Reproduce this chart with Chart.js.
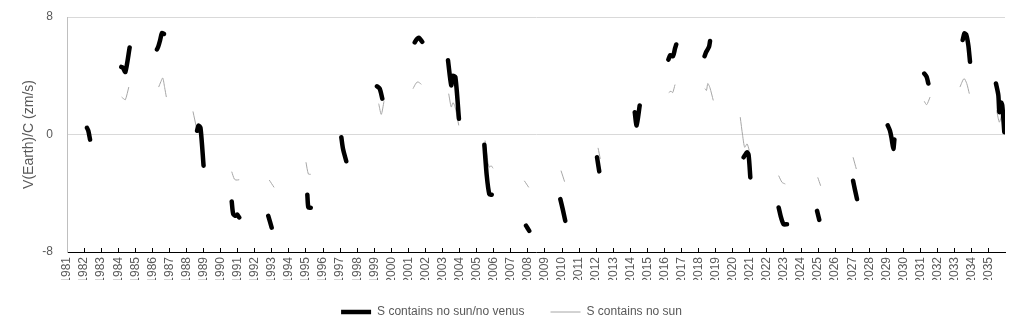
<!DOCTYPE html>
<html>
<head>
<meta charset="utf-8">
<script src="https://cdn.jsdelivr.net/npm/chart.js@4/dist/chart.umd.min.js"></script>
<style>
  html, body { margin: 0; padding: 0; background: #fff; }
</style>
</head>
<body>
<canvas id="velocityChart" width="1022" height="334"></canvas>
<script>
const yearTicks = [1981, 1982, 1983, 1984, 1985, 1986, 1987, 1988, 1989, 1990,
  1991, 1992, 1993, 1994, 1995, 1996, 1997, 1998, 1999, 2000,
  2001, 2002, 2003, 2004, 2005, 2006, 2007, 2008, 2009, 2010,
  2011, 2012, 2013, 2014, 2015, 2016, 2017, 2018, 2019, 2020,
  2021, 2022, 2023, 2024, 2025, 2026, 2027, 2028, 2029, 2030,
  2031, 2032, 2033, 2034, 2035];
const valueTicks = [-8, 0, 8];

// S contains no sun/no venus  (null = gap between observing windows)
const noVenusYears = [
  1982.17, 1982.25, 1982.35, null,
  1984.18, 1984.27, 1984.42, 1984.67, null,
  1986.27, 1986.35, 1986.45, 1986.56, 1986.68, null,
  1988.62, 1988.7, 1988.82, 1989.0, null,
  1990.65, 1990.74, 1990.9, 1990.97, 1991.09, null,
  1992.79, 1992.99, null,
  1995.08, 1995.14, 1995.28, null,
  1997.07, 1997.17, 1997.36, null,
  1999.16, 1999.32, 1999.47, null,
  2001.37, 2001.5, 2001.62, 2001.81, null,
  2003.32, 2003.51, 2003.6, 2003.75, 2003.96, null,
  2005.45, 2005.59, 2005.74, 2005.88, null,
  2007.89, 2008.08, null,
  2009.9, 2010.04, 2010.19, null,
  2012.05, 2012.18, null,
  2014.26, 2014.37, 2014.55, null,
  2016.23, 2016.34, 2016.5, 2016.62, 2016.69, null,
  2018.35, 2018.45, 2018.61, 2018.67, null,
  2020.64, 2020.84, 2020.93, 2021.03, null,
  2022.69, 2022.83, 2022.98, 2023.18, null,
  2024.94, 2025.07, null,
  2027.05, 2027.15, 2027.28, null,
  2029.08, 2029.21, 2029.31, 2029.41, 2029.47, null,
  2031.22, 2031.36, 2031.46, null,
  2033.47, 2033.57, 2033.67, 2033.8, 2033.9, null,
  2035.42, 2035.56, 2035.62, 2035.72, 2035.79, 2035.91
];
const noVenusValues = [
  0.45, 0.25, -0.35, null,
  4.6, 4.55, 4.26, 5.93, null,
  5.79, 6.0, 6.4, 6.9, 6.85, null,
  0.25, 0.6, 0.45, -2.12, null,
  -4.56, -5.42, -5.54, -5.45, -5.65, null,
  -5.54, -6.34, null,
  -4.1, -4.97, -4.99, null,
  -0.18, -0.98, -1.82, null,
  3.28, 3.12, 2.44, null,
  6.27, 6.5, 6.58, 6.31, null,
  5.06, 3.35, 3.99, 3.92, 1.07, null,
  -0.7, -2.8, -4.06, -4.1, null,
  -6.2, -6.56, null,
  -4.4, -5.08, -5.88, null,
  -1.55, -2.51, null,
  1.52, 0.62, 1.98, null,
  5.1, 5.4, 5.33, 5.86, 6.13, null,
  5.33, 5.63, 5.97, 6.36, null,
  -1.55, -1.21, -1.4, -2.92, null,
  -4.97, -5.65, -6.11, -6.11, null,
  -5.2, -5.81, null,
  -3.15, -3.71, -4.4, null,
  0.62, 0.27, -0.29, -0.98, -0.34, null,
  4.15, 3.92, 3.47, null,
  6.43, 6.88, 6.82, 6.09, 4.95, null,
  3.47, 2.67, 1.52, 2.17, 1.98, 0.16
];

// S contains no sun
const noSunYears = [
  1982.1, 1982.2, null,
  1984.2, 1984.3, 1984.42, 1984.62, null,
  1986.37, 1986.5, 1986.61, 1986.72, 1986.82, null,
  1988.38, 1988.62, null,
  1990.65, 1990.8, 1990.9, 1991.09, null,
  1992.85, 1993.13, null,
  1995.0, 1995.14, 1995.28, null,
  1997.05, 1997.35, null,
  1999.26, 1999.41, 1999.57, null,
  2001.27, 2001.45, 2001.56, 2001.76, null,
  2003.36, 2003.51, 2003.61, 2003.73, 2003.95, null,
  2005.49, 2005.66, 2005.74, 2005.84, 2005.96, null,
  2007.79, 2008.05, null,
  2009.94, 2010.15, null,
  2012.11, 2012.24, null,
  2014.25, 2014.36, 2014.51, null,
  2016.25, 2016.38, 2016.48, 2016.62, null,
  2018.37, 2018.46, 2018.54, 2018.66, 2018.86, null,
  2020.44, 2020.58, 2020.7, 2020.84, 2020.97, null,
  2022.69, 2022.89, 2023.08, null,
  2024.98, 2025.15, null,
  2027.05, 2027.24, null,
  2029.08, 2029.4, null,
  2031.22, 2031.36, 2031.56, null,
  2033.31, 2033.55, 2033.71, 2033.86, null,
  2035.46, 2035.62, 2035.76, 2035.85
];
const noSunValues = [
  0.6, 0.35, null,
  2.55, 2.45, 2.37, 3.23, null,
  3.23, 3.6, 3.85, 3.2, 2.55, null,
  1.57, 0.27, null,
  -2.53, -3.03, -3.1, -3.08, null,
  -3.1, -3.6, null,
  -1.89, -2.69, -2.71, null,
  -0.1, -1.7, null,
  2.1, 1.37, 2.26, null,
  3.12, 3.5, 3.58, 3.42, null,
  2.78, 1.87, 2.17, 1.9, 0.62, null,
  -0.41, -1.9, -2.23, -2.12, -2.3, null,
  -3.15, -3.6, null,
  -2.46, -3.21, null,
  -0.91, -1.66, null,
  1.3, 0.5, 1.7, null,
  2.85, 2.95, 2.85, 3.4, null,
  3.12, 3.0, 3.47, 3.2, 2.32, null,
  1.18, -0.07, -0.87, -0.64, -1.09, null,
  -2.8, -3.26, -3.37, null,
  -2.92, -3.49, null,
  -1.55, -2.35, null,
  0.5, -0.9, null,
  2.26, 2.03, 2.55, null,
  3.23, 3.81, 3.47, 2.78, null,
  1.64, 0.84, 1.3, 0.9
];

function toPoints(xs, ys) {
  return xs.map((x, i) => ({ x: x === null ? xs[i - 1] : x, y: ys[i] }));
}

Chart.defaults.font.family = "'Liberation Sans', Arial, sans-serif";
Chart.defaults.font.size = 12;
Chart.defaults.color = '#595959';

const ctx = document.getElementById('velocityChart').getContext('2d');
new Chart(ctx, {
  type: 'line',
  data: {
    datasets: [{
      label: 'S contains no sun/no venus',
      data: toPoints(noVenusYears, noVenusValues),
      borderColor: '#000000',
      backgroundColor: '#000000',
      borderWidth: 4.5,
      borderCapStyle: 'round',
      borderJoinStyle: 'round',
      tension: 0.25,
      pointRadius: 0,
      spanGaps: false
    }, {
      label: 'S contains no sun',
      data: toPoints(noSunYears, noSunValues),
      borderColor: '#a6a6a6',
      backgroundColor: '#a6a6a6',
      borderWidth: 1,
      tension: 0.25,
      pointRadius: 0,
      spanGaps: false
    }]
  },
  options: {
    responsive: false,
    animation: false,
    layout: { padding: { top: 17, right: 17, bottom: 6, left: 18 } },
    scales: {
      x: {
        type: 'linear',
        min: 1981,
        max: 2035.95,
        afterBuildTicks: scale => { scale.ticks = yearTicks.map(v => ({ value: v })); },
        afterFit: scale => { scale.height = 28; },
        ticks: {
          autoSkip: false,
          minRotation: 90,
          maxRotation: 90,
          padding: 9,
          color: '#595959',
          callback: v => String(v)
        },
        grid: {
          drawOnChartArea: false,
          drawTicks: true,
          tickLength: -4,
          color: '#000000'
        },
        border: { color: '#000000', width: 1 }
      },
      y: {
        min: -8,
        max: 8,
        afterBuildTicks: scale => { scale.ticks = valueTicks.map(v => ({ value: v })); },
        afterFit: scale => {
          scale.width = 49;
          scale.paddingTop = 0;
          scale.paddingBottom = 0;
        },
        ticks: { padding: 14, color: '#595959' },
        grid: {
          drawTicks: false,
          color: c => (c.tick && c.tick.value === -8) ? 'rgba(0,0,0,0)' : '#d9d9d9'
        },
        border: { color: '#bfbfbf' },
        title: {
          display: true,
          text: 'V(Earth)/C (zm/s)',
          color: '#595959',
          font: { size: 14 },
          padding: { top: 3, bottom: 0 }
        }
      }
    },
    plugins: {
      legend: {
        display: true,
        position: 'bottom',
        align: 'center',
        labels: {
          usePointStyle: true,
          pointStyle: 'line',
          pointStyleWidth: 30,
          padding: 26,
          color: '#595959',
          font: { size: 12 }
        }
      },
      tooltip: { enabled: false }
    }
  }
});
</script>
</body>
</html>
